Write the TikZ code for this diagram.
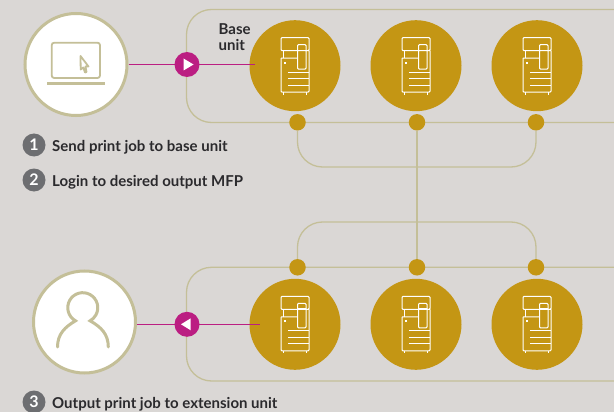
\documentclass[tikz,border=0pt]{standalone}
\usepackage{fontspec}
\setmainfont{Lato}
\usepackage{xcolor}
\usetikzlibrary{positioning, calc}
\definecolor{paperbg}{RGB}{218, 215, 213}
\definecolor{railolive}{RGB}{196, 191, 152}
\definecolor{mfpgold}{RGB}{196, 150, 20}
\definecolor{jobmagenta}{RGB}{187, 30, 130}
\definecolor{badgegrey}{RGB}{109, 110, 113}
\definecolor{labelink}{RGB}{43, 42, 45}

\tikzset{
    rail/.style={draw=railolive, line width=1.3pt},
    bigdisc/.style={circle, draw=railolive, line width=3pt, fill=white, minimum size=102pt, inner sep=0pt},
    mfpdisc/.style={circle, fill=mfpgold, minimum size=91pt, inner sep=0pt},
    joindot/.style={circle, fill=mfpgold, minimum size=16.5pt, inner sep=0pt},
    jobdot/.style={circle, fill=jobmagenta, minimum size=25pt, inner sep=0pt},
    jobline/.style={draw=jobmagenta, line width=1.1pt},
    stepbadge/.style={circle, fill=badgegrey, text=white, minimum size=23pt, inner sep=0pt, font=\fontsize{16}{16}\selectfont\bfseries},
    steptext/.style={anchor=west, text=labelink, inner sep=0pt, font=\fontsize{15}{18}\selectfont\bfseries},
    mfpicon/.pic={
        \draw[white, line width=1pt, rounded corners=1pt]
            (-14,-28) rectangle (14,-15)
            (-14,-7.5) -- (-14,26.5) -- (14,26.5) -- (14,-15)
            (-14,-7.5) -- (2,-7.5)
            (2.5,-21) rectangle (11,3.5);
        \draw[white, line width=1pt]
            (-11.5,-15) -- (-11.5,-7.5)
            (2.5,-15.5) -- (11,-15.5)
            (-7,6.5) -- (14,6.5)
            (-7,13) -- (14,13)
            (-7,19.5) -- (14,19.5)
            (-12,26.5) -- (-12,29)
            (11,26.5) -- (11,29);
        \fill[white] (-11,-4) rectangle (-9,-2);
    }
}

\begin{document}
\begin{tikzpicture}[x=1pt, y=-1pt]
    \clip (0,0) rectangle (614,412);
    \fill[paperbg] (0,0) rectangle (614,412);

    % rails of the two units
    \draw[rail, rounded corners=25pt] (630,9.5) -- (186.5,9.5) -- (186.5,122.5) -- (630,122.5);
    \draw[rail, rounded corners=25pt] (630,267.3) -- (186.5,267.3) -- (186.5,381) -- (630,381);

    \node[bigdisc] (laptop) at (76,64.5) {};
    \node[bigdisc] (user) at (84.5,322) {};

    % base unit and extension unit
    \foreach \name/\xpos in {a/295, b/416, c/537} {
        \node[mfpdisc] (base\name) at (\xpos,65.7) {};
        \node[mfpdisc] (ext\name) at (\xpos,324.3) {};
        \pic at (base\name) {mfpicon};
        \pic at (ext\name) {mfpicon};
    }
    \foreach \name/\xpos in {a/297.5, b/417, c/536} {
        \node[joindot] (topdot\name) at (\xpos,122.3) {};
        \node[joindot] (lowdot\name) at (\xpos,267.3) {};
    }

    % joining lines
    \coordinate (tophub) at (417,167);
    \coordinate (lowhub) at (417,222);
    \draw[rail, rounded corners=25pt] (topdota) -- (topdota |- tophub) -- (topdotc |- tophub) -- (topdotc);
    \draw[rail, rounded corners=25pt] (lowdota) -- (lowdota |- lowhub) -- (lowdotc |- lowhub) -- (lowdotc);
    \draw[rail] (topdotb) -- (lowdotb);

    % job lines
    \coordinate (sendend) at (255,64.5);
    \coordinate (outend) at (260,324.3);
    \draw[jobline] (laptop) -- (sendend);
    \draw[jobline] (user.east |- outend) -- (outend);
    \node[jobdot] (sendarrow) at (187,64.5) {};
    \node[jobdot] (outarrow) at (187,324.3) {};
    \fill[white] (183.5,58.5) -- (193.5,64.5) -- (183.5,70.5) -- cycle;
    \fill[white] (190.7,318.3) -- (181,324.3) -- (190.7,330.3) -- cycle;

    % laptop
    \draw[railolive, line width=1.8pt, rounded corners=2.5pt] (51.7,42.7) rectangle (100,78);
    \draw[railolive, line width=2.4pt] (47,83.5) -- (105,83.5);
    \draw[railolive, line width=1.8pt, line join=round] (80.5,56) -- (88.5,66.5) -- (85.5,66.5) -- (86.5,72) -- (85,72.5) -- (83.3,67.5) -- (80.7,69.5) -- cycle;

    % user
    \draw[railolive, line width=3pt, line cap=round] (57.5,347) .. controls (57.5,334) and (65,327) .. (75.5,320.8) arc[start angle=119, end angle=421, radius=15] .. controls (101,327) and (108.3,334) .. (108.3,347);

    % labels
    \node[text=labelink, align=left, anchor=north west, inner sep=0pt, font=\fontsize{15}{16}\selectfont\bfseries] (baselabel) at (218.5,23) {Base\\unit};

    \node[stepbadge] (one) at (34,145) {1};
    \node[stepbadge] (two) at (34,180) {2};
    \node[stepbadge] (three) at (34,402) {3};
    \node[steptext] (onetext) at (52,147) {Send print job to base unit};
    \node[steptext] (twotext) at (52,182.5) {Login to desired output MFP};
    \node[steptext] (threetext) at (52,404) {Output print job to extension unit};
\end{tikzpicture}
\end{document}
